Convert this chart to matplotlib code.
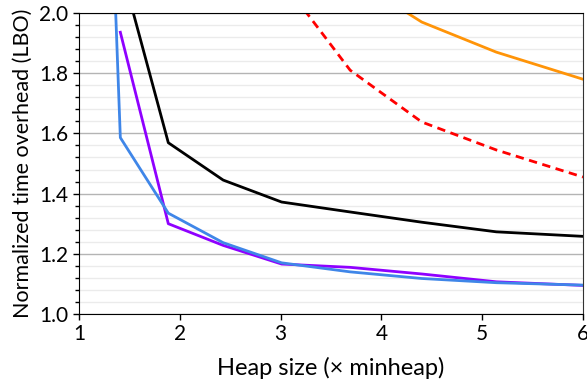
import matplotlib
matplotlib.use("Agg")
import matplotlib.pyplot as plt
from matplotlib.ticker import MultipleLocator

plt.rcParams['font.family'] = ['Lato', 'DejaVu Sans']

# heap sizes (multiples of the minimum heap)
heap = [1.41, 1.886, 2.43, 3.01, 3.69, 4.40, 5.14, 6.0]

# normalized time overhead per collector
black_y = [2.16, 1.569, 1.445, 1.372, 1.339, 1.305, 1.273, 1.258]
red_y = [2.40, 2.25, 2.18, 2.11, 1.81, 1.638, 1.545, 1.455]
orange_y = [2.70, 2.50, 2.35, 2.25, 2.12, 1.97, 1.87, 1.78]
purple_y = [1.936, 1.300, 1.228, 1.166, 1.155, 1.133, 1.107, 1.095]
blue_x = [1.364, 1.41, 1.886, 2.43, 3.01, 3.69, 4.40, 5.14, 6.0]
blue_y = [2.0, 1.586, 1.335, 1.237, 1.170, 1.140, 1.118, 1.104, 1.096]

fig = plt.figure(figsize=(5.87, 3.85), dpi=100)
ax = fig.add_axes([0.1346, 0.1844, 0.8586, 0.7818])

ax.plot(heap, orange_y, color='#ff9408', lw=2)
ax.plot(heap, red_y, color='#ff0000', lw=2, ls=(0, (3, 2)))
ax.plot(heap, black_y, color='black', lw=2)
ax.plot(heap, purple_y, color='#8f00ff', lw=2)
ax.plot(blue_x, blue_y, color='#3f86e8', lw=2)

ax.set_xlim(1, 6)
ax.set_ylim(1.0, 2.0)
ax.xaxis.set_major_locator(MultipleLocator(1))
ax.yaxis.set_major_locator(MultipleLocator(0.2))
ax.yaxis.set_minor_locator(MultipleLocator(0.04))
ax.yaxis.set_major_formatter(lambda v, p: f"{v:.1f}")

ax.grid(axis='y', which='major', color='#b4b4b4', lw=1)
ax.grid(axis='y', which='minor', color='#ebebeb', lw=1)
ax.set_axisbelow(True)

ax.tick_params(axis='both', which='major', length=4, width=1, labelsize=15)
ax.tick_params(axis='y', which='minor', length=3, width=1)
ax.spines['right'].set_color('#333333')

ax.set_xlabel("Heap size (× minheap)", fontsize=17, labelpad=9)
ax.set_ylabel("Normalized time overhead (LBO)", fontsize=15.5, labelpad=5)

fig.savefig("out.png", dpi=100)
